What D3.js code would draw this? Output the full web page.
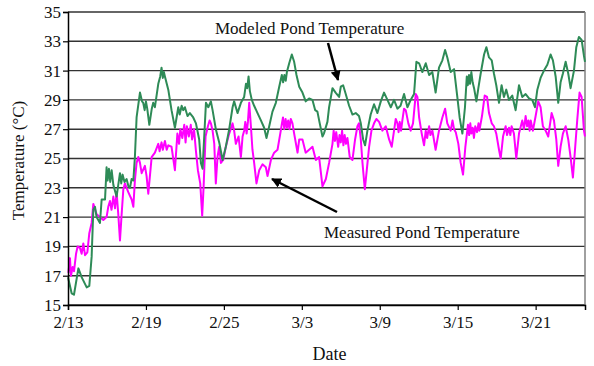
<!DOCTYPE html>
<html>
<head>
<meta charset="utf-8">
<script src="https://cdn.jsdelivr.net/npm/d3@7"></script>
<style>
  html, body { margin: 0; padding: 0; background: #fff; }
  svg { display: block; }
  text { font-family: "Liberation Serif", "Times New Roman", serif; fill: #111; }
</style>
</head>
<body>
<svg id="chart" width="594" height="366"></svg>
<script>
// ---- Data: [days since 2/13, temperature °C] ----
const modeledSeries = [[0,16.9],[0.28,15.8],[0.46,15.7],[0.8,17.5],[1.05,16.9],[1.44,16.2],[1.64,16.3],[1.82,18.3],[1.95,21.5],[2.08,21.7],[2.2,21.0],[2.46,20.6],[2.59,22.2],[2.85,22.2],[2.97,24.4],[3.05,23.5],[3.15,24.3],[3.25,23.4],[3.36,24.2],[3.49,23.2],[3.74,22.4],[4.0,24.0],[4.1,23.3],[4.2,23.9],[4.35,23.4],[4.51,23.6],[4.65,23.1],[4.77,23.0],[4.9,23.6],[5.03,23.5],[5.15,25.1],[5.28,27.8],[5.54,29.5],[5.7,28.9],[5.79,28.8],[5.9,28.3],[6.0,28.9],[6.1,28.4],[6.26,27.3],[6.45,28.4],[6.56,28.8],[6.69,28.5],[6.95,30.1],[7.1,30.6],[7.2,31.2],[7.3,30.5],[7.38,30.9],[7.46,30.6],[7.72,29.7],[7.97,28.3],[8.23,27.1],[8.49,28.5],[8.6,28.0],[8.75,28.6],[8.87,28.3],[9.0,28.5],[9.2,27.9],[9.38,28.1],[9.64,27.8],[9.85,27.4],[10.1,26.3],[10.23,24.7],[10.36,24.3],[10.62,28.8],[10.8,28.5],[11.0,28.9],[11.13,28.3],[11.38,27.0],[11.64,26.1],[11.9,24.9],[12.15,25.8],[12.41,27.0],[12.67,28.5],[12.79,28.9],[13.05,28.1],[13.31,28.8],[13.56,29.2],[13.7,30.1],[13.8,29.8],[13.9,30.6],[14.0,29.6],[14.15,29.0],[14.33,28.6],[14.59,28.1],[14.85,27.6],[15.1,27.1],[15.28,26.4],[15.49,27.2],[15.74,28.2],[16.0,28.8],[16.26,29.9],[16.46,30.7],[16.56,30.2],[16.66,30.7],[16.76,30.3],[16.85,30.9],[17.03,31.5],[17.23,32.1],[17.41,31.6],[17.59,30.7],[17.8,29.9],[18.05,29.5],[18.3,28.9],[18.56,29.1],[18.82,29.0],[19.03,28.3],[19.2,28.2],[19.38,27.4],[19.59,26.5],[19.7,26.7],[19.97,27.5],[20.1,28.5],[20.36,29.8],[20.6,29.5],[20.87,29.2],[21.0,29.9],[21.18,30.0],[21.38,29.4],[21.64,28.6],[21.9,28.0],[22.15,28.1],[22.4,27.9],[22.54,27.4],[22.72,26.3],[22.87,25.9],[23.05,26.9],[23.3,28.0],[23.56,28.7],[23.82,28.1],[24.08,28.9],[24.33,29.5],[24.59,29.0],[24.85,28.5],[25.1,29.0],[25.36,28.4],[25.6,28.6],[25.87,29.4],[26.13,28.5],[26.38,29.0],[26.64,29.4],[26.82,31.6],[27.03,31.5],[27.28,30.9],[27.54,31.5],[27.8,30.7],[28.05,30.9],[28.3,29.5],[28.56,31.2],[28.82,31.7],[29.03,32.4],[29.2,31.9],[29.46,30.9],[29.72,31.1],[29.97,29.2],[30.15,27.8],[30.36,26.7],[30.56,28.5],[30.7,30.6],[30.78,30.0],[30.87,30.7],[30.95,30.1],[31.05,30.9],[31.15,30.2],[31.26,29.8],[31.44,28.9],[31.59,29.8],[31.77,30.8],[32.03,32.1],[32.21,32.6],[32.41,31.9],[32.62,31.7],[32.79,30.8],[32.97,30.0],[33.18,28.8],[33.38,30.0],[33.56,29.2],[33.74,29.7],[33.95,29.0],[34.2,29.3],[34.46,28.3],[34.72,30.0],[34.97,29.2],[35.23,29.4],[35.49,29.1],[35.74,29.0],[35.95,28.5],[36.13,29.7],[36.38,30.5],[36.64,31.0],[36.9,31.4],[37.15,32.1],[37.33,31.7],[37.54,30.6],[37.74,28.8],[37.92,30.2],[38.1,30.8],[38.31,31.6],[38.51,30.8],[38.69,29.8],[38.95,31.0],[39.13,32.6],[39.33,33.3],[39.54,33.1],[39.72,32.0],[39.8,31.6]];

const measuredSeries = [[0.03,17.2],[0.15,18.2],[0.23,17.0],[0.36,17.6],[0.46,17.3],[0.62,18.5],[0.74,19.0],[0.92,18.9],[1.05,18.5],[1.18,19.2],[1.31,18.4],[1.49,18.6],[1.64,19.9],[1.82,20.6],[1.95,21.9],[2.2,21.2],[2.46,21.0],[2.72,20.8],[2.97,21.0],[3.1,21.7],[3.23,22.1],[3.35,21.5],[3.49,22.4],[3.62,21.6],[3.74,22.7],[3.87,21.2],[4.0,19.4],[4.13,21.2],[4.26,22.9],[4.38,23.3],[4.64,22.7],[4.9,22.2],[5.03,21.7],[5.15,23.5],[5.28,24.7],[5.41,25.1],[5.54,24.7],[5.67,24.0],[5.92,24.5],[6.05,23.8],[6.18,22.6],[6.44,25.1],[6.69,25.4],[6.95,26.0],[7.05,25.5],[7.2,26.1],[7.3,25.6],[7.46,26.2],[7.6,25.6],[7.72,25.9],[7.97,25.8],[8.23,24.2],[8.42,26.7],[8.55,26.0],[8.65,27.0],[8.8,26.4],[8.95,27.3],[9.05,26.1],[9.15,27.2],[9.3,26.5],[9.45,27.3],[9.55,26.3],[9.7,27.0],[9.85,25.5],[10.0,24.2],[10.18,23.3],[10.33,21.1],[10.44,23.1],[10.59,26.5],[10.77,27.2],[10.9,27.6],[11.0,27.4],[11.13,26.9],[11.26,26.0],[11.38,23.3],[11.51,25.1],[11.64,25.8],[11.77,24.7],[11.95,24.9],[12.15,25.8],[12.41,26.7],[12.67,27.4],[12.79,26.9],[12.92,26.0],[13.13,26.5],[13.31,25.1],[13.44,26.5],[13.56,26.9],[13.65,27.5],[13.75,26.7],[13.85,27.5],[13.95,28.8],[14.08,27.2],[14.2,25.6],[14.33,24.7],[14.51,23.3],[14.72,24.2],[14.97,24.6],[15.23,24.4],[15.36,23.8],[15.62,24.9],[15.87,25.4],[16.13,25.6],[16.38,26.9],[16.45,27.3],[16.55,27.8],[16.65,27.0],[16.75,27.7],[16.85,27.1],[16.95,27.6],[17.05,27.0],[17.15,27.7],[17.28,27.4],[17.41,26.7],[17.67,25.4],[17.8,26.3],[18.05,26.3],[18.3,25.4],[18.56,25.6],[18.82,25.8],[19.08,24.9],[19.33,25.1],[19.59,23.1],[19.85,23.6],[20.1,24.7],[20.36,26.0],[20.45,26.9],[20.55,26.2],[20.65,26.8],[20.8,25.8],[20.9,26.6],[21.0,26.1],[21.1,26.9],[21.2,25.9],[21.3,26.6],[21.4,26.0],[21.51,26.4],[21.69,25.1],[21.9,24.9],[22.1,26.3],[22.28,27.2],[22.4,27.4],[22.54,26.3],[22.67,24.7],[22.85,22.9],[23.0,24.2],[23.18,25.8],[23.36,26.9],[23.56,27.4],[23.74,27.7],[23.95,27.5],[24.2,26.9],[24.46,27.2],[24.72,26.3],[24.92,25.8],[25.1,26.9],[25.23,27.7],[25.36,27.4],[25.45,26.8],[25.54,27.5],[25.64,26.9],[25.74,27.6],[25.87,28.4],[26.0,28.3],[26.2,27.4],[26.38,26.9],[26.56,27.4],[26.77,29.4],[26.9,29.2],[27.03,27.8],[27.23,26.7],[27.41,25.9],[27.54,26.9],[27.65,26.4],[27.8,27.2],[27.9,26.6],[28.05,26.9],[28.3,25.6],[28.56,26.9],[28.82,27.8],[29.03,28.4],[29.2,27.4],[29.46,26.9],[29.6,27.6],[29.72,27.0],[29.85,26.8],[30.05,26.0],[30.23,24.7],[30.41,23.9],[30.59,25.8],[30.79,27.3],[30.88,26.6],[30.97,27.4],[31.05,26.7],[31.15,27.1],[31.25,26.4],[31.35,27.2],[31.49,26.8],[31.6,27.4],[31.67,26.9],[31.87,27.9],[32.08,29.3],[32.26,29.2],[32.41,28.1],[32.62,27.4],[32.79,27.2],[32.97,26.7],[33.18,25.6],[33.31,25.0],[33.49,26.5],[33.69,27.2],[33.8,26.6],[33.95,27.1],[34.05,26.6],[34.15,27.2],[34.33,26.7],[34.51,25.0],[34.72,26.7],[34.97,27.6],[35.1,27.0],[35.23,27.9],[35.34,27.2],[35.44,27.6],[35.54,26.9],[35.62,27.6],[35.79,26.9],[36.0,27.9],[36.2,28.9],[36.38,28.5],[36.56,27.2],[36.77,26.9],[36.97,26.5],[37.23,28.1],[37.41,27.6],[37.59,26.3],[37.74,24.5],[37.92,25.8],[38.1,26.7],[38.31,27.2],[38.51,26.3],[38.69,25.1],[38.87,23.7],[39.03,25.6],[39.2,27.6],[39.38,29.5],[39.54,29.2],[39.72,26.9],[39.8,26.5]];

const xTickDays = [0, 6, 12, 18, 24, 30, 36];
const xTickLabels = ["2/13", "2/19", "2/25", "3/3", "3/9", "3/15", "3/21"];
const yTicks = [15, 17, 19, 21, 23, 25, 27, 29, 31, 33, 35];
const xDomain = [0, 39.8];
const yDomain = [15, 35];

// ---- Layout ----
const svg = d3.select("#chart");
const pLeft = 68, pRight = 585, pTop = 12, pBottom = 305;

const x = d3.scaleLinear().domain(xDomain).range([pLeft, pRight]);
const y = d3.scaleLinear().domain(yDomain).range([pBottom, pTop]);

// Gridlines
svg.append("g")
  .selectAll("line")
  .data(yTicks)
  .join("line")
  .attr("x1", pLeft).attr("x2", pRight)
  .attr("y1", d => y(d)).attr("y2", d => y(d))
  .attr("stroke", "#333")
  .attr("stroke-width", 1.4);

// Right border
svg.append("line")
  .attr("x1", pRight).attr("x2", pRight)
  .attr("y1", pTop).attr("y2", pBottom)
  .attr("stroke", "#808080").attr("stroke-width", 1.5);

// Lines
const line = d3.line().x(d => x(d[0])).y(d => y(d[1])).curve(d3.curveLinear);

svg.append("path").datum(measuredSeries)
  .attr("d", line).attr("fill", "none")
  .attr("stroke", "#ff00ff").attr("stroke-width", 2).attr("stroke-linejoin", "round");
svg.append("path").datum(modeledSeries)
  .attr("d", line).attr("fill", "none")
  .attr("stroke", "#2e8b57").attr("stroke-width", 2).attr("stroke-linejoin", "round");

// Axes
const xAxis = d3.axisBottom(x)
  .tickValues(xTickDays)
  .tickFormat((d, i) => xTickLabels[i])
  .tickSize(5).tickPadding(6);
const gx = svg.append("g").attr("transform", `translate(0,${pBottom})`).call(xAxis);
gx.select(".domain").attr("stroke", "#000").attr("stroke-width", 1.5);
gx.selectAll(".tick line").attr("stroke", "#000").attr("stroke-width", 1.2);
gx.selectAll("text").attr("font-size", 17).attr("font-family", "Liberation Serif").attr("fill", "#111");

const yAxis = d3.axisLeft(y)
  .tickValues(yTicks)
  .tickSize(5).tickPadding(2);
const gy = svg.append("g").attr("transform", `translate(${pLeft},0)`).call(yAxis);
gy.select(".domain").attr("stroke", "#000").attr("stroke-width", 1.5);
gy.selectAll(".tick line").attr("stroke", "#000").attr("stroke-width", 1.2);
gy.selectAll("text").attr("font-size", 17).attr("font-family", "Liberation Serif").attr("fill", "#111");

// Axis titles
svg.append("text")
  .attr("x", (pLeft + pRight) / 2 + 3).attr("y", 360)
  .attr("text-anchor", "middle").attr("font-size", 18)
  .text("Date");
svg.append("text")
  .attr("transform", `translate(24,${(pTop + pBottom) / 2 + 2}) rotate(-90)`)
  .attr("text-anchor", "middle").attr("font-size", 17)
  .text("Temperature (°C)");

// Annotations
const defs = svg.append("defs");
defs.append("marker")
  .attr("id", "arrow")
  .attr("viewBox", "0 0 10 10")
  .attr("refX", 9).attr("refY", 5)
  .attr("markerWidth", 4).attr("markerHeight", 4)
  .attr("orient", "auto")
  .append("path").attr("d", "M0,0 L10,5 L0,10 z").attr("fill", "#000");

svg.append("text")
  .attr("x", 215).attr("y", 34)
  .attr("font-size", 17)
  .text("Modeled Pond Temperature");
svg.append("line")
  .attr("x1", 328).attr("y1", 43).attr("x2", 338).attr("y2", 80)
  .attr("stroke", "#000").attr("stroke-width", 2.5)
  .attr("marker-end", "url(#arrow)");

svg.append("text")
  .attr("x", 324).attr("y", 238)
  .attr("font-size", 17)
  .text("Measured Pond Temperature");
svg.append("line")
  .attr("x1", 337).attr("y1", 212).attr("x2", 272).attr("y2", 179)
  .attr("stroke", "#000").attr("stroke-width", 2.5)
  .attr("marker-end", "url(#arrow)");
</script>
</body>
</html>
